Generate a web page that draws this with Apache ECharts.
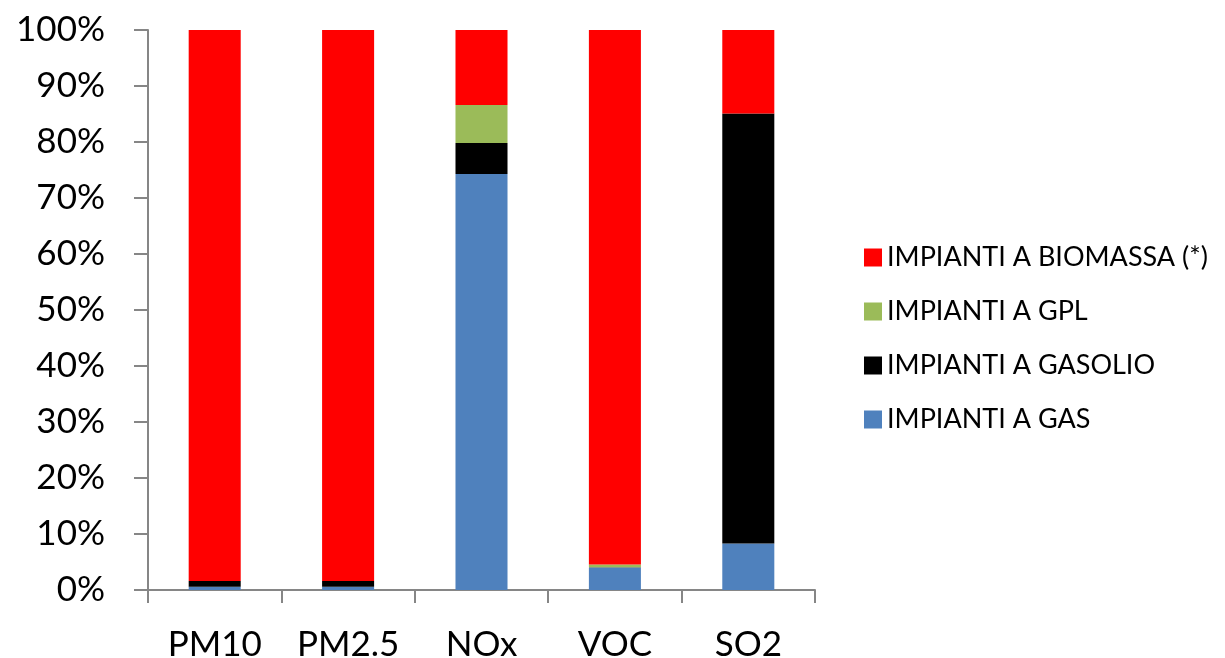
<!DOCTYPE html>
<html><head><meta charset="utf-8">
<script src="https://cdn.jsdelivr.net/npm/echarts@6/dist/echarts.min.js"></script>
<style>html,body{margin:0;padding:0;background:#fff}#c{width:1225px;height:658px}</style>
</head><body><div id="c"></div>
<script>
const categories = ['PM10', 'PM2.5', 'NOx', 'VOC', 'SO2'];
const gas = [0.6, 0.6, 74.3, 4.0, 8.3];
const gasolio = [1.0, 1.0, 5.5, 0.05, 76.8];
const gpl = [0.0, 0.0, 6.8, 0.5, 0.0];
const biomassa = [98.4, 98.4, 13.4, 95.45, 14.9];
const seriesNames = ['IMPIANTI A GAS', 'IMPIANTI A GASOLIO', 'IMPIANTI A GPL', 'IMPIANTI A BIOMASSA (*)'];
const colors = ['#4F81BD', '#000000', '#9BBB59', '#FF0000'];
const yTicks = [0, 10, 20, 30, 40, 50, 60, 70, 80, 90, 100];

const font = 'Lato, "Liberation Sans", sans-serif';
const chart = echarts.init(document.getElementById('c'), null, {renderer: 'canvas'});
const datasets = [gas, gasolio, gpl, biomassa];
chart.setOption({
  animation: false,
  grid: {left: 148, right: 410, top: 30, bottom: 68, containLabel: false, outerBoundsMode: 'none'},
  legend: {
    orient: 'vertical', left: 859, top: 239,
    data: seriesNames.slice().reverse(),
    itemWidth: 18, itemHeight: 18, itemGap: 27,
    icon: 'rect',
    textStyle: {fontFamily: font, fontSize: 27, color: '#000'}
  },
  xAxis: {
    type: 'category', data: categories,
    axisLine: {lineStyle: {color: '#868686', width: 2}},
    axisTick: {show: true, length: 13, lineStyle: {color: '#868686', width: 2}},
    axisLabel: {fontFamily: font, fontSize: 35, color: '#000', margin: 37}
  },
  yAxis: {
    type: 'value', min: 0, max: 100, interval: 10,
    axisLine: {show: true, lineStyle: {color: '#868686', width: 2}},
    axisTick: {show: true, length: 14, lineStyle: {color: '#868686', width: 2}},
    splitLine: {show: false},
    axisLabel: {fontFamily: font, fontSize: 35, color: '#000', margin: 43,
      formatter: v => yTicks.includes(v) ? v + '%' : ''}
  },
  series: datasets.map((d, i) => ({
    name: seriesNames[i], type: 'bar', stack: 'total', data: d,
    barWidth: '39%', itemStyle: {color: colors[i]}
  }))
});
</script></body></html>
